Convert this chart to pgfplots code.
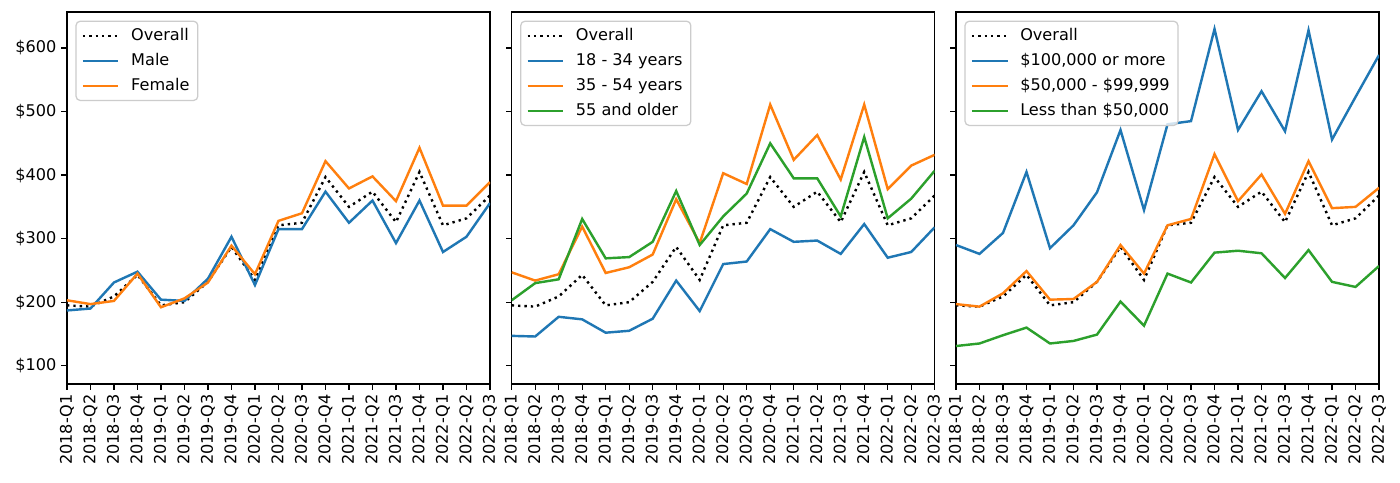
\documentclass[border=0pt]{standalone}
\usepackage{fontspec}
\setmainfont{DejaVu Sans}
\usepackage{pgfplots}
\pgfplotsset{compat=1.18}
\usepackage{pgfplotstable}

\definecolor{tabblue}{HTML}{1F77B4}
\definecolor{taborange}{HTML}{FF7F0E}
\definecolor{tabgreen}{HTML}{2CA02C}

% quarter index, then series
\pgfplotstableread{
q overall male female
0 195 187 203
1 193 190 197
2 209 231 202
3 243 248 245
4 195 204 192
5 200 202 206
6 232 237 231
7 287 303 289
8 235 227 244
9 321 315 328
10 325 315 340
11 397 374 422
12 350 325 379
13 374 360 398
14 326 293 359
15 405 360 443
16 321 279 352
17 332 303 352
18 368 356 389
}\gender

\pgfplotstableread{
q overall young middle old
0 195 147 247 203
1 193 146 234 230
2 209 177 244 236
3 243 173 319 331
4 195 152 246 269
5 200 155 255 271
6 232 174 275 295
7 287 234 362 375
8 235 186 293 290
9 321 260 403 335
10 325 264 386 371
11 397 315 511 450
12 350 295 424 395
13 374 297 463 395
14 326 276 393 335
15 405 323 511 460
16 321 270 378 332
17 332 279 415 363
18 368 318 432 407
}\age

\pgfplotstableread{
q overall high mid low
0 195 290 197 131
1 193 276 193 135
2 209 309 214 148
3 243 405 249 160
4 195 285 204 135
5 200 321 205 139
6 232 373 232 149
7 287 471 290 201
8 235 345 245 163
9 321 480 321 245
10 325 485 331 231
11 397 630 433 278
12 350 471 359 281
13 374 532 401 277
14 326 469 339 238
15 405 628 422 282
16 321 456 348 232
17 332 523 350 224
18 368 589 380 257
}\income

\pgfplotsset{
  panel/.style={
    scale only axis,
    width=304.6pt, height=267.8pt,
    xmin=0, xmax=18, ymin=71.2, ymax=656.6,
    xtick={0,...,18},
    xticklabels={2018-Q1,2018-Q2,2018-Q3,2018-Q4,2019-Q1,2019-Q2,2019-Q3,2019-Q4,
      2020-Q1,2020-Q2,2020-Q3,2020-Q4,2021-Q1,2021-Q2,2021-Q3,2021-Q4,2022-Q1,2022-Q2,2022-Q3},
    x tick label style={rotate=90, anchor=east},
    ytick={100,200,...,600},
    tick align=outside, xtick pos=bottom, ytick pos=left,
    major tick length=4pt,
    tick style={line width=0.93pt, black},
    axis line style={line width=0.93pt},
    tick label style={font=\fontsize{11.6}{13.9}\selectfont},
    /pgf/number format/assume math mode=true,
    legend cell align=left,
    legend style={at={(0.02,0.977)}, anchor=north west,
      draw=black!20, line width=0.9pt, rounded corners=3pt,
      fill=white, fill opacity=0.8, text opacity=1,
      font=\fontsize{11.6}{13.9}\selectfont,
      inner xsep=3pt, inner ysep=2pt, row sep=1pt,
      nodes={inner sep=3pt, text height=8.6pt, text depth=2.4pt}},
    legend image code/.code={\draw[#1] (0pt,0pt) -- (25.7pt,0pt); \path (-1pt,0pt) (31pt,0pt);},
    every axis plot/.append style={line width=1.74pt},
  },
  overall/.style={black, line cap=butt, dash pattern=on 1.7pt off 2.9pt},
}

\begin{document}
\begin{tikzpicture}
\fill[white] (-48.2pt,-70.6pt) rectangle (959.8pt,276.5pt);

\begin{axis}[panel, at={(0pt,0pt)}, anchor=south west,
  yticklabels={\$100,\$200,\$300,\$400,\$500,\$600}]
  \addplot[overall] table[x=q, y=overall] {\gender};
  \addlegendentry{Overall}
  \addplot[tabblue] table[x=q, y=male] {\gender};
  \addlegendentry{Male}
  \addplot[taborange] table[x=q, y=female] {\gender};
  \addlegendentry{Female}
\end{axis}

\begin{axis}[panel, at={(320.2pt,0pt)}, anchor=south west, yticklabels={}]
  \addplot[overall] table[x=q, y=overall] {\age};
  \addlegendentry{Overall}
  \addplot[tabblue] table[x=q, y=young] {\age};
  \addlegendentry{18 - 34 years}
  \addplot[taborange] table[x=q, y=middle] {\age};
  \addlegendentry{35 - 54 years}
  \addplot[tabgreen] table[x=q, y=old] {\age};
  \addlegendentry{55 and older}
\end{axis}

\begin{axis}[panel, at={(640.1pt,0pt)}, anchor=south west, yticklabels={}]
  \addplot[overall] table[x=q, y=overall] {\income};
  \addlegendentry{Overall}
  \addplot[tabblue] table[x=q, y=high] {\income};
  \addlegendentry{\$100,000 or more}
  \addplot[taborange] table[x=q, y=mid] {\income};
  \addlegendentry{\$50,000 - \$99,999}
  \addplot[tabgreen] table[x=q, y=low] {\income};
  \addlegendentry{Less than \$50,000}
\end{axis}

\pgfresetboundingbox
\path (-48.2pt,-70.6pt) rectangle (959.8pt,276.5pt);
\end{tikzpicture}
\end{document}
